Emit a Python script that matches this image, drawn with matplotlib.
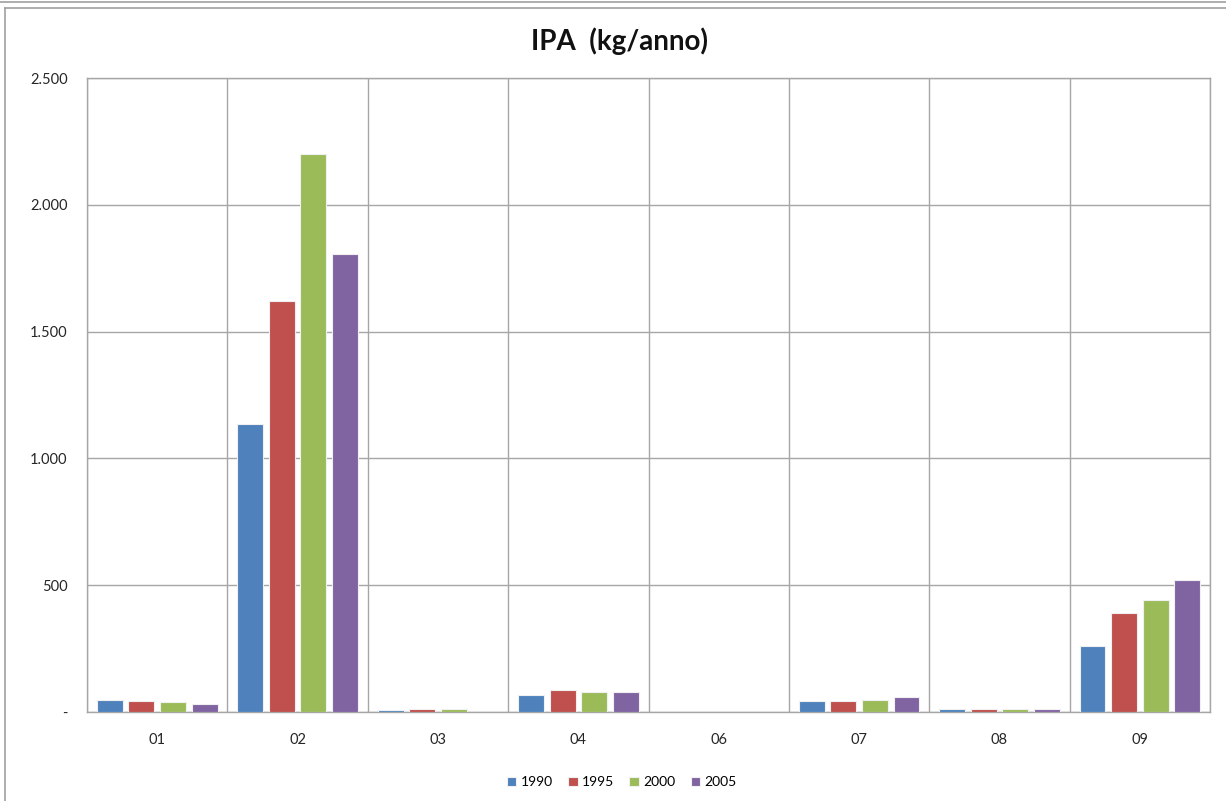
import numpy as np
import matplotlib.pyplot as plt
from matplotlib.ticker import FixedLocator, FuncFormatter

categories = ["01", "02", "03", "04", "06", "07", "08", "09"]
years = ["1990", "1995", "2000", "2005"]
v1990 = [47, 1135, 8, 67, 0, 43, 14, 260]
v1995 = [43, 1620, 14, 88, 0, 43, 14, 390]
v2000 = [39, 2200, 12, 79, 0, 47, 12, 442]
v2005 = [33, 1805, 0, 78, 0, 59, 14, 522]
series = [v1990, v1995, v2000, v2005]
colors = ["#4F81BD", "#C0504D", "#9BBB59", "#8064A2"]

plt.rcParams["font.family"] = ["Lato", "DejaVu Sans"]

fig = plt.figure(figsize=(12.26, 8.01), dpi=100)
ax = fig.add_axes([0.071, 0.111, 0.916, 0.7916])

x = np.arange(len(categories))
step = 0.225
width = 0.185
for i, (vals, col, yr) in enumerate(zip(series, colors, years)):
    ax.bar(x + (i - 1.5) * step, vals, width=width, color=col,
           edgecolor="#f0f0f0", linewidth=0.8, label=yr, zorder=3)

ax.set_xlim(-0.5, len(categories) - 0.5)
ax.set_ylim(0, 2500)
ax.yaxis.set_major_locator(FixedLocator([0, 500, 1000, 1500, 2000, 2500]))
ax.yaxis.set_major_formatter(FuncFormatter(
    lambda v, p: "-" if v == 0 else f"{int(v):,}".replace(",", ".")))
ax.set_xticks(x)
ax.set_xticklabels(categories)
ax.xaxis.set_minor_locator(FixedLocator(np.arange(-0.5, len(categories), 1)))

ax.grid(axis="y", which="major", color="#a6a6a6", linewidth=1, zorder=0)
ax.grid(axis="x", which="minor", color="#a6a6a6", linewidth=1, zorder=0)
ax.tick_params(axis="both", which="both", length=0, labelsize=10.5, colors="#262626")
ax.tick_params(axis="x", pad=15)
ax.tick_params(axis="y", pad=14)
for s in ax.spines.values():
    s.set_color("#a6a6a6")
    s.set_linewidth(1)

fig.text(0.505, 0.949, "IPA  (kg/anno)", ha="center", va="center",
         fontsize=20, fontweight="bold", color="#111111")

ax.legend(loc="lower center", bbox_to_anchor=(0.476, -0.14), ncol=4, frameon=False,
          fontsize=10, handlelength=0.7, handleheight=0.7, handletextpad=0.3,
          columnspacing=1.1)

# outer chart border
fig.add_artist(plt.Line2D([0.004, 0.004], [0, 0.99], color="#a0a0a0", lw=1.2))
fig.add_artist(plt.Line2D([0.004, 1], [0.99, 0.99], color="#a0a0a0", lw=1.2))
fig.add_artist(plt.Line2D([0, 1], [0.997, 0.997], color="#a0a0a0", lw=1.2))

fig.savefig("out.png", dpi=100)
